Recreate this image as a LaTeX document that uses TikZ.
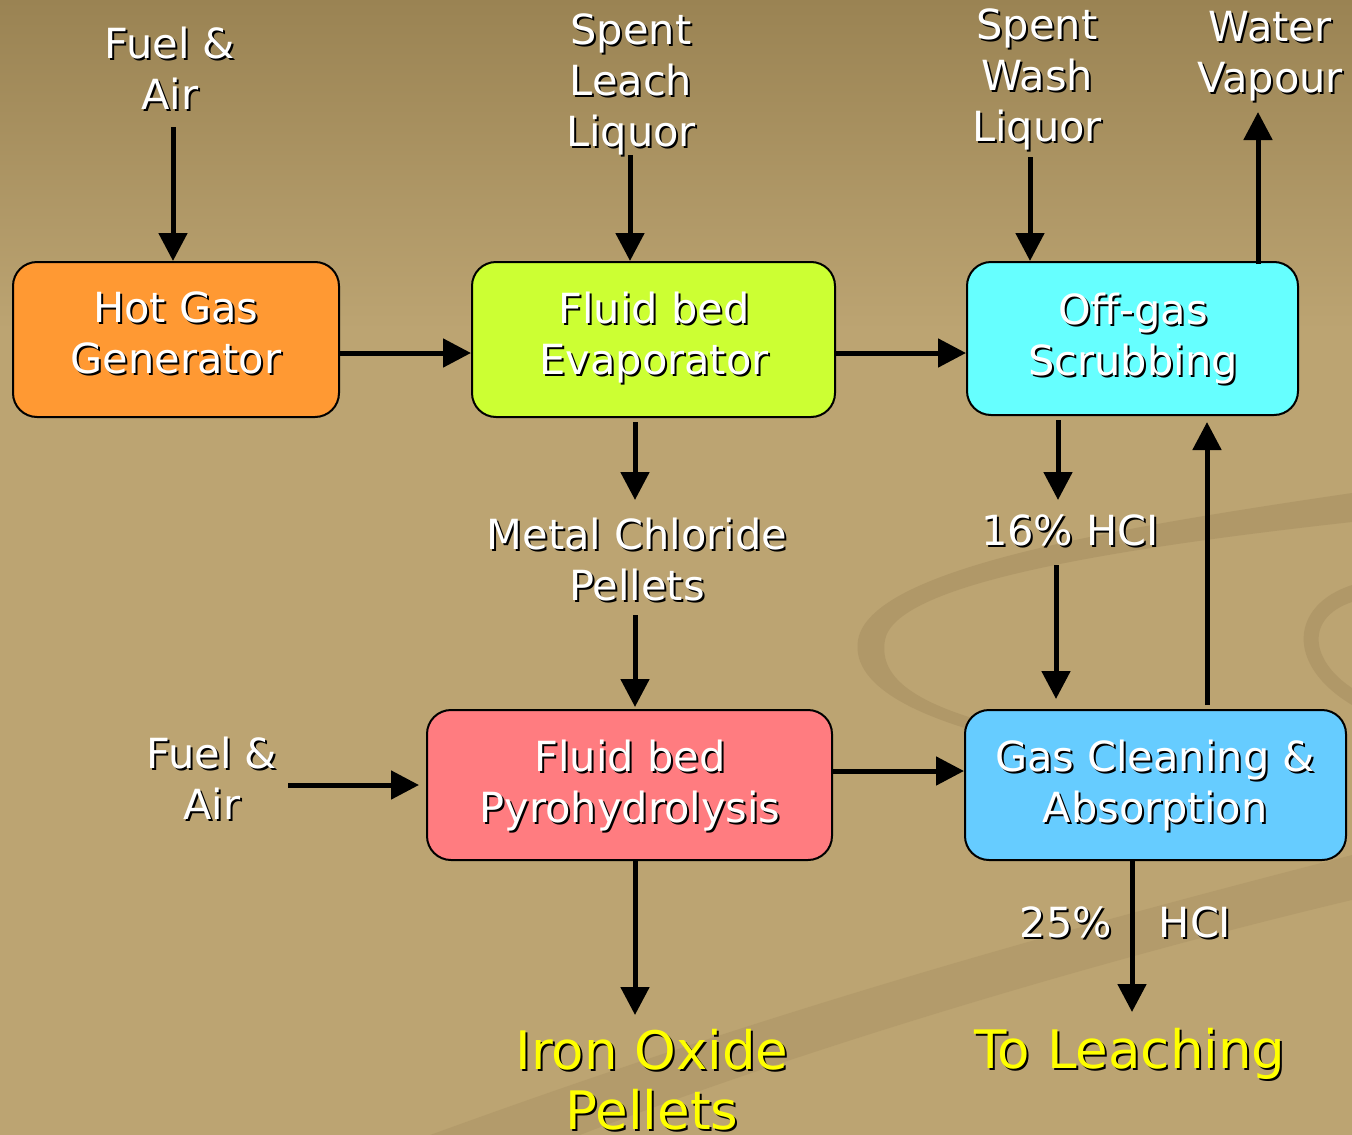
\documentclass[tikz,border=0pt]{standalone}
\usepackage{fontspec}
\setmainfont{DejaVu Sans}
\usetikzlibrary{arrows.meta,calc}
\definecolor{bgtop}{HTML}{9A8353}
\definecolor{bgmain}{HTML}{BCA472}
\definecolor{swoosh}{HTML}{A58D60}
\definecolor{cHot}{HTML}{FF9933}
\definecolor{cEvap}{HTML}{CCFF33}
\definecolor{cOff}{HTML}{66FFFF}
\definecolor{cPyro}{HTML}{FF7C80}
\definecolor{cGas}{HTML}{66CCFF}
\definecolor{cYel}{HTML}{FFFF00}
\newcommand\shtxt[4]{%
  \node[lbl,#1,text=black,xshift=2pt,yshift=-2pt] at #3 {#4};
  \node[lbl,#1] (#2) at #3 {#4};}
\begin{document}
\begin{tikzpicture}[x=1pt,y=-1pt,
  box/.style={draw=black,line width=2pt,rounded corners=24pt,inner sep=0pt},
  lbl/.style={font=\fontsize{41.5}{51}\selectfont,text=white,align=center,inner sep=0pt},
  big/.style={font=\fontsize{53}{60}\selectfont,text=cYel},
  arr/.style={line width=5pt,-{Triangle[length=28pt,width=28pt]}}]
\useasboundingbox (0,0) rectangle (1352,1135);
% background
\shade[top color=bgtop,bottom color=bgmain] (0,0) rectangle (1352,330);
\fill[bgmain] (0,329) rectangle (1352,1135);
\fill[swoosh,opacity=0.5] (1352,493) .. controls (1100,530) and (870,570) .. (858,640)
  .. controls (850,690) and (930,720) .. (1000,738)
  -- (1000,726) .. controls (920,705) and (878,680) .. (885,640)
  .. controls (895,585) and (1100,550) .. (1352,522) -- cycle;
\fill[swoosh,opacity=0.5] (1352,585) .. controls (1290,605) and (1285,665) .. (1352,705)
  -- (1352,688) .. controls (1310,660) and (1305,618) .. (1352,602) -- cycle;
\fill[swoosh,opacity=0.35] (430,1135) .. controls (800,1000) and (1100,920) .. (1352,855)
  -- (1352,900) .. controls (1100,960) and (800,1050) .. (580,1135) -- cycle;
% boxes
\node[box,fill=cHot,minimum width=326pt,minimum height=155pt] (hgg) at (176,339.5) {};
\node[box,fill=cEvap,minimum width=363pt,minimum height=155pt] (evap) at (653.5,339.5) {};
\node[box,fill=cOff,minimum width=331pt,minimum height=153pt] (off) at (1132.5,338.5) {};
\node[box,fill=cPyro,minimum width=405pt,minimum height=150pt] (pyro) at (629.5,785) {};
\node[box,fill=cGas,minimum width=381pt,minimum height=150pt] (gas) at (1155.5,785) {};
% box texts
\shtxt{}{thgg}{(176,333)}{Hot Gas\\Generator}
\shtxt{}{tevap}{(654,338)}{Fluid bed\\Evaporator}
\shtxt{}{toff}{(1133,339)}{Off-gas\\Scrubbing}
\shtxt{}{tpyro}{(630,786)}{Fluid bed\\Pyrohydrolysis}
\shtxt{}{tgas}{(1155,786)}{Gas Cleaning \&\\Absorption}
% labels
\shtxt{}{fa1}{(170,68.5)}{Fuel \&\\Air}
\shtxt{}{sll}{(631,84)}{Spent\\Leach\\Liquor}
\shtxt{}{swl}{(1037,79)}{Spent\\Wash\\Liquor}
\shtxt{}{wv}{(1270,56)}{Water\\Vapour}
\shtxt{}{mcp}{(637,560)}{Metal Chloride\\Pellets}
\shtxt{}{h16}{(1070,530)}{16\% HCI}
\shtxt{}{fa2}{(212,778)}{Fuel \&\\Air}
\shtxt{}{p25}{(1066,922)}{25\%}
\shtxt{}{h25}{(1195,922)}{HCI}
\shtxt{big}{iop}{(652,1080)}{Iron Oxide\\Pellets}
\shtxt{big}{tol}{(1130,1054)}{To Leaching}
% arrow anchors
\coordinate (a1) at (173,127);
\coordinate (a2) at (630,155);
\coordinate (a3) at (1030,157);
\coordinate (a4) at (1258,112);
\coordinate (a5) at (339,353);
\coordinate (a6) at (835,353);
\coordinate (a7) at (635,500);
\coordinate (a8) at (635,615);
\coordinate (a9) at (1058,500);
\coordinate (a10) at (1056,565);
\coordinate (a11) at (1207,422);
\coordinate (a12) at (288,785);
\coordinate (a13) at (832,771);
\coordinate (a14) at (635,1015);
\coordinate (a15) at (1132,1012);
% arrows
\draw[arr] (a1) -- (a1 |- hgg.north);
\draw[arr] (a2) -- (a2 |- evap.north);
\draw[arr] (a3) -- (a3 |- off.north);
\draw[arr,shorten <=-3pt] (a4 |- off.north) -- (a4);
\draw[arr] (a5) -- (a5 -| evap.west);
\draw[arr] (a6) -- (a6 -| off.west);
\draw[arr,shorten <=4pt] (a7 |- evap.south) -- (a7);
\draw[arr,shorten >=2pt] (a8) -- (a8 |- pyro.north);
\draw[arr,shorten <=4pt] (a9 |- off.south) -- (a9);
\draw[arr,shorten >=10pt] (a10) -- (a10 |- gas.north);
\draw[arr,shorten <=4pt] (a11 |- gas.north) -- (a11);
\draw[arr,shorten >=7pt] (a12) -- (pyro.west);
\draw[arr] (a13) -- (a13 -| gas.west);
\draw[arr] (a14 |- pyro.south) -- (a14);
\draw[arr] (a15 |- gas.south) -- (a15);
\end{tikzpicture}
\end{document}
